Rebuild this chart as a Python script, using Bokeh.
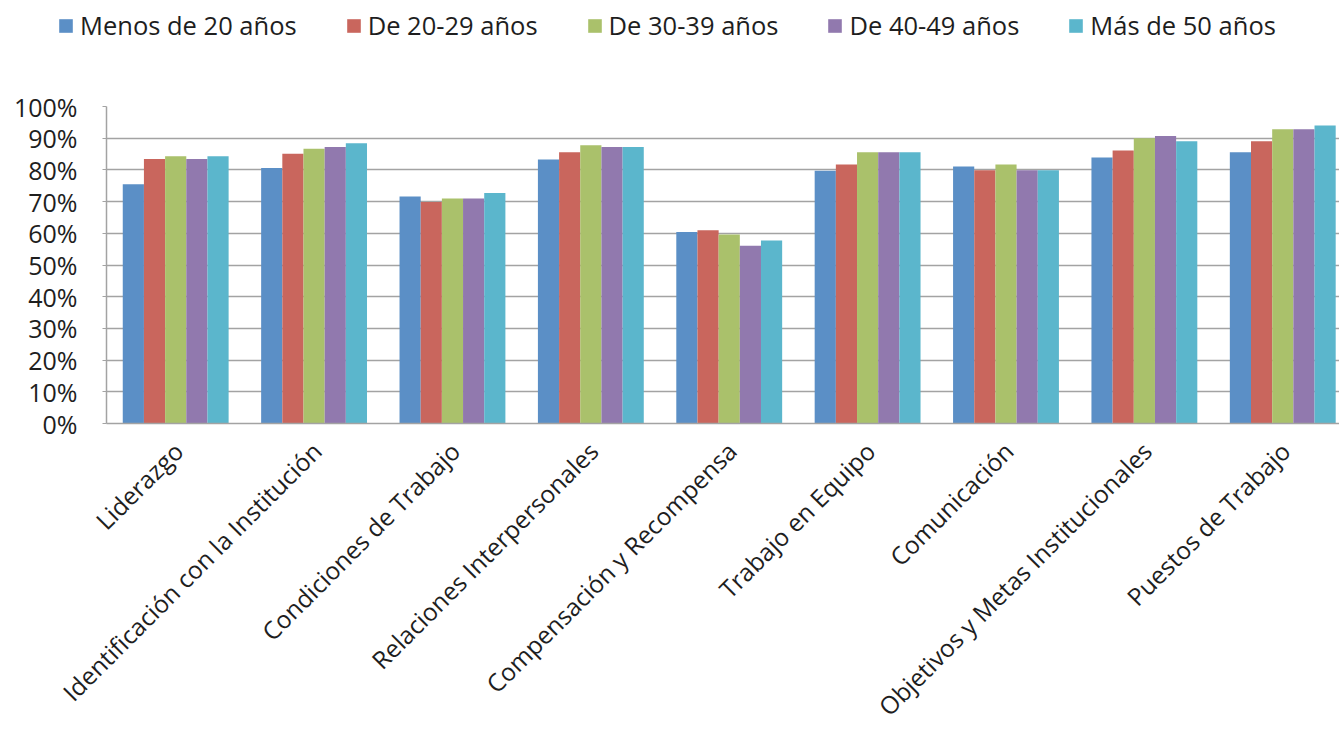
import math
from bokeh.plotting import figure
from bokeh.layouts import column
from bokeh.models import Range1d, FixedTicker, Legend, LegendItem
from bokeh.embed import file_html
from bokeh.resources import INLINE

categories = [
    "Liderazgo",
    "Identificación con la Institución",
    "Condiciones de Trabajo",
    "Relaciones Interpersonales",
    "Compensación y Recompensa",
    "Trabajo en Equipo",
    "Comunicación",
    "Objetivos y Metas Institucionales",
    "Puestos de Trabajo",
]
series_names = ["Menos de 20 años", "De 20-29 años", "De 30-39 años", "De 40-49 años", "Más de 50 años"]
menos_20 = [0.755, 0.806, 0.716, 0.833, 0.604, 0.797, 0.811, 0.839, 0.856]
de_20_29 = [0.834, 0.851, 0.699, 0.856, 0.610, 0.817, 0.799, 0.861, 0.890]
de_30_39 = [0.843, 0.867, 0.710, 0.878, 0.596, 0.856, 0.817, 0.900, 0.928]
de_40_49 = [0.834, 0.872, 0.710, 0.872, 0.561, 0.856, 0.799, 0.907, 0.928]
mas_50 = [0.843, 0.884, 0.727, 0.872, 0.577, 0.856, 0.799, 0.890, 0.940]
series_values = [menos_20, de_20_29, de_30_39, de_40_49, mas_50]
colors = ["#5B8FC6", "#C9665D", "#AAC16B", "#9179AE", "#5BB6CC"]
y_ticks = [0.0, 0.1, 0.2, 0.3, 0.4, 0.5, 0.6, 0.7, 0.8, 0.9, 1.0]
y_tick_labels = ["0%", "10%", "20%", "30%", "40%", "50%", "60%", "70%", "80%", "90%", "100%"]

FONT = "Open Sans"
TXT = "#1e1e1e"
GRID = "#A3A3A3"
LEG_H = 60
bw = 0.153

# ---- legend strip ----
pl = figure(width=1339, height=LEG_H, output_backend="svg", toolbar_location=None,
            x_range=Range1d(100, 101), y_range=Range1d(100, 101),
            min_border=0, x_axis_type=None, y_axis_type=None)
pl.frame_align = False
pl.outline_line_color = None
pl.xgrid.grid_line_color = None
pl.ygrid.grid_line_color = None
leg_items = []
for j, (name, vals, col) in enumerate(zip(series_names, series_values, colors)):
    xs = [i + 0.5 + (j - 2) * bw for i in range(len(categories))]
    r = pl.vbar(x=xs, top=vals, width=bw, fill_color=col, line_color=None, visible=False)
    leg_items.append(LegendItem(label=name, renderers=[r]))
legend = Legend(items=leg_items, orientation="horizontal", location=(57, 18),
                label_text_font=FONT, label_text_font_size="25.5px", label_text_color=TXT,
                glyph_width=17, glyph_height=17, label_standoff=6, spacing=48,
                padding=0, margin=0, border_line_color=None, background_fill_alpha=0,
                inactive_fill_alpha=0)
pl.add_layout(legend, "center")

# ---- main chart ----
p = figure(frame_width=1233, frame_height=317, output_backend="svg", toolbar_location=None,
           x_range=Range1d(0, 8.91), y_range=Range1d(0, 1.0),
           min_border_left=106, min_border_right=0, min_border_bottom=316,
           min_border_top=106 - LEG_H)
p.frame_align = False
p.outline_line_color = None

for j, (vals, col) in enumerate(zip(series_values, colors)):
    xs = [i + 0.5 + (j - 2) * bw for i in range(len(categories))]
    p.vbar(x=xs, top=vals, width=bw, bottom=0, fill_color=col, line_color=None)

# y axis
p.yaxis.ticker = FixedTicker(ticks=y_ticks)
p.yaxis.major_label_overrides = {t: l for t, l in zip(y_ticks, y_tick_labels)}
p.yaxis.major_label_text_font = FONT
p.yaxis.major_label_text_font_size = "25px"
p.yaxis.major_label_text_color = TXT
p.yaxis.axis_line_color = GRID
p.yaxis.axis_line_width = 1.5
p.yaxis.major_tick_line_color = GRID
p.yaxis.major_tick_out = 4
p.yaxis.major_tick_in = 0
p.yaxis.minor_tick_line_color = None
p.yaxis.major_label_standoff = 25

# x axis
shift = 0.02
x_ticks = [i + 0.5 + shift for i in range(len(categories))]
p.xaxis.ticker = FixedTicker(ticks=x_ticks)
p.xaxis.major_label_overrides = {t: c for t, c in zip(x_ticks, categories)}
p.xaxis.major_label_orientation = math.pi / 4
p.xaxis.major_label_text_font = FONT
p.xaxis.major_label_text_font_size = "24.5px"
p.xaxis.major_label_text_color = TXT
p.xaxis.axis_line_color = GRID
p.xaxis.axis_line_width = 1.5
p.xaxis.major_tick_line_color = None
p.xaxis.minor_tick_line_color = None
p.xaxis.major_tick_out = 0
p.xaxis.major_label_standoff = 23

p.xgrid.grid_line_color = None
p.ygrid.ticker = FixedTicker(ticks=y_ticks)
p.ygrid.grid_line_color = GRID
p.ygrid.grid_line_width = 1.5

layout = column(pl, p, spacing=0)
open("out.html", "w").write(file_html(layout, INLINE))
